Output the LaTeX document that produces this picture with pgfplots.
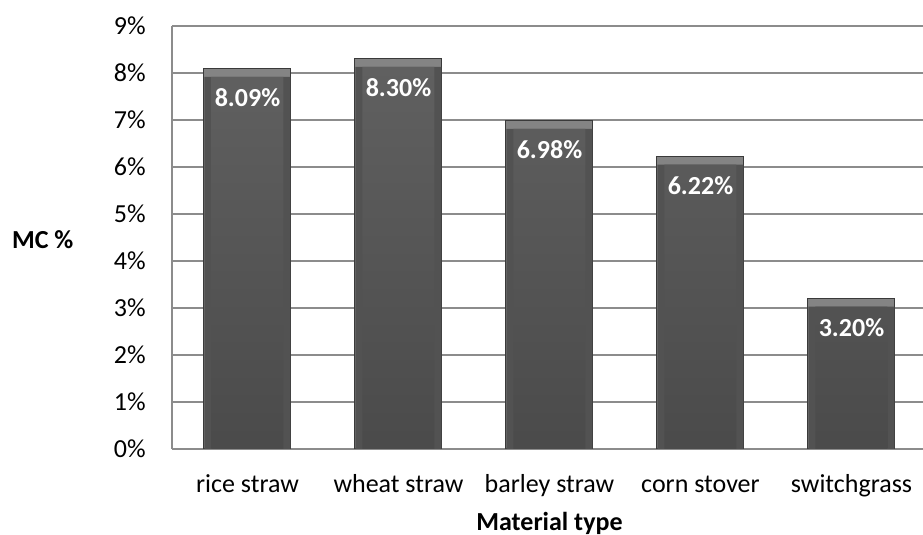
\documentclass[border=0pt]{standalone}
\usepackage{pgfplots}
\usepackage{pgfplotstable}
\pgfplotsset{compat=1.18}
\usepackage{fontspec}
\setmainfont{Carlito}

\definecolor{gridgray}{RGB}{140,140,140}
\definecolor{bartop}{RGB}{96,96,96}
\definecolor{barbot}{RGB}{74,74,74}
\definecolor{barside}{RGB}{82,82,82}
\definecolor{baredge}{RGB}{58,58,58}
\definecolor{bevlight}{RGB}{132,132,132}

% moisture content by material, in percent
\pgfplotstableread{
idx mc
0   8.09
1   8.30
2   6.98
3   6.22
4   3.20
}\mcdata

\begin{document}
\begin{tikzpicture}[font=\fontsize{13}{15.6}\selectfont]
\path[use as bounding box] (0,0) rectangle (461.5pt,267.5pt);
\begin{axis}[
  at={(86pt,43pt)}, anchor=south west,
  scale only axis, width=377.5pt, height=211.5pt,
  xmin=-0.5, xmax=4.5, ymin=0, ymax=9,
  ybar, bar shift=0pt,
  axis lines*=left,
  axis line style={gridgray, line width=0.9pt},
  major tick length=0pt,
  ymajorgrids, grid style={gridgray, line width=0.9pt},
  xtick=data,
  xticklabels={rice straw, wheat straw, barley straw, corn stover, switchgrass},
  ytick={0,1,...,9},
  yticklabel={\pgfmathprintnumber{\tick}\%},
  /pgf/number format/assume math mode=true,
  yticklabel style={anchor=east, inner sep=0pt, xshift=-13pt},
  xticklabel style={anchor=base, inner sep=0pt, yshift=-22pt},
  xlabel={\bfseries Material type},
  ylabel={\bfseries MC \%},
  every axis x label/.style={at={(axis description cs:0.5,0)}, anchor=base, yshift=-41pt, inner sep=0pt},
  every axis y label/.style={at={(axis description cs:0,0.5)}, anchor=west, xshift=-80.15pt, yshift=-1.25pt, inner sep=0pt},
]
% outer bar with the light bevelled top face and the value label
\addplot[bar width=43.5pt, fill=bevlight, draw=baredge, line width=0.5pt,
  nodes near coords={\pgfmathprintnumber[fixed,fixed zerofill,precision=2]{\pgfplotspointmeta}\%},
  every node near coord/.append style={text=white, font=\fontsize{13}{15.6}\selectfont\bfseries,
    anchor=base, yshift=-19pt, inner sep=0pt}]
  table[x=idx, y=mc] {\mcdata};
% side faces, lowered below the top bevel
\addplot[bar width=43pt, fill=barside, draw=none, yshift=-4pt]
  table[x=idx, y=mc] {\mcdata};
% front face
\addplot[bar width=36pt, draw=none, top color=bartop, bottom color=barbot, yshift=-4pt]
  table[x=idx, y=mc] {\mcdata};
\end{axis}
\end{tikzpicture}
\end{document}
